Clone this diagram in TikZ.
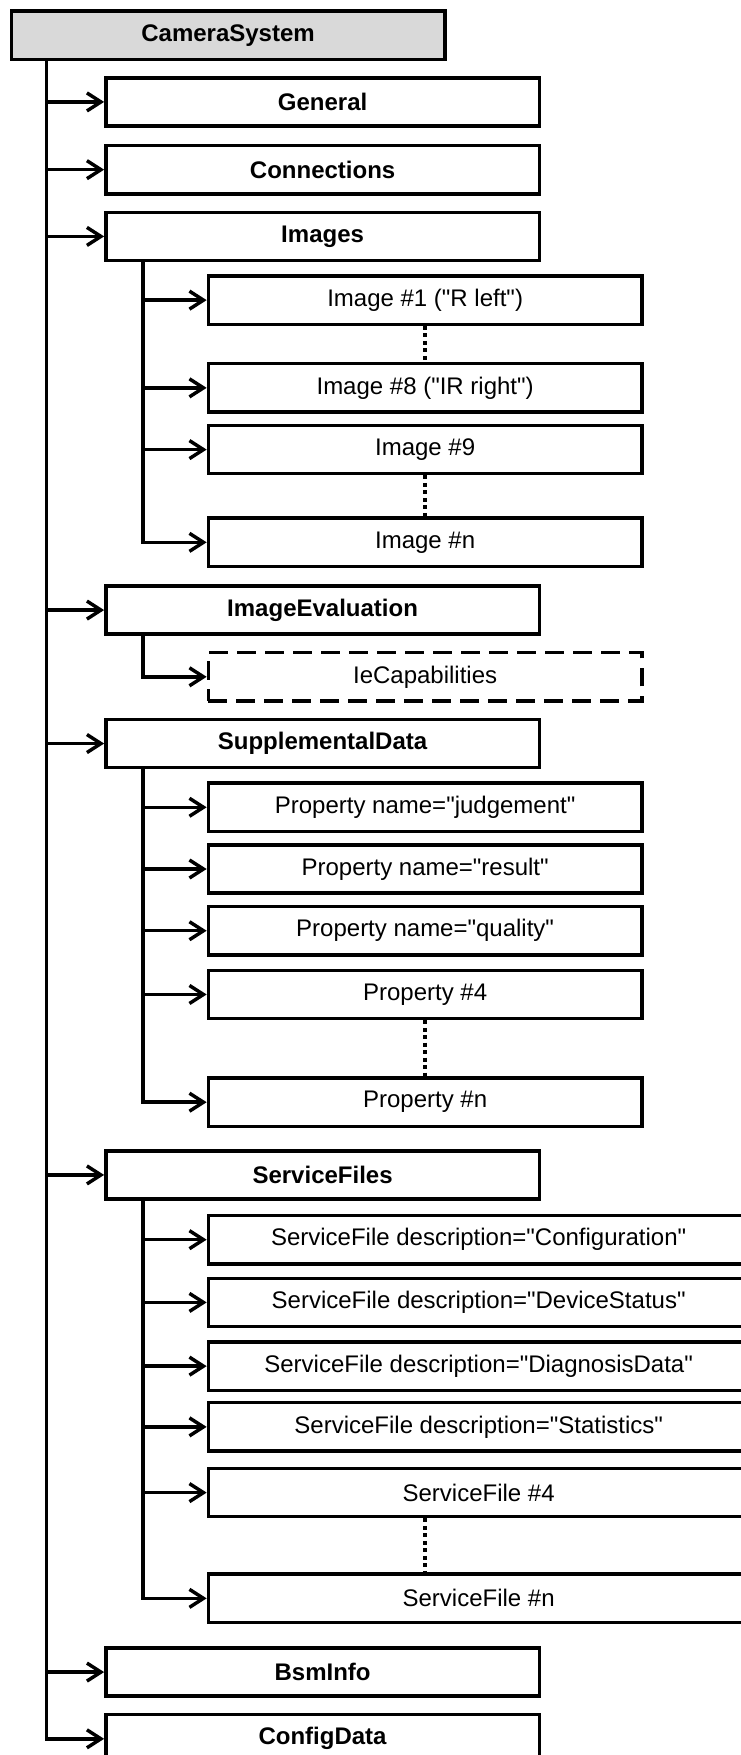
\documentclass[tikz,border=0pt]{standalone}
\usepackage{fontspec}
\setmainfont{Liberation Sans}
\usetikzlibrary{arrows.meta,positioning}
\newcommand{\qmark}{\XeTeXglyph\XeTeXcharglyph"22\relax}

\begin{document}
\begin{tikzpicture}[
  font=\fontsize{18}{21}\selectfont,
  line width=2.6pt,
  box/.style={draw, minimum width=325.1pt, minimum height=36.2pt, inner sep=0pt, align=center, fill=#1},
  box/.default=white,
  wide/.style={minimum width=405.4pt},
  link/.style={-{Straight Barb[length=10.5pt,width=13.5pt]}},
  gapline/.style={dash pattern=on 3pt off 2.6pt},
  node distance=10pt
]
\useasboundingbox (-7.2pt,7pt) rectangle (547.8pt,-1309.25pt);

\node[box=black!15, anchor=north west] (camsys) at (0,0) {\textbf{CameraSystem}};

\node[box, below=11.25pt of camsys, xshift=70.9pt] (general) {\textbf{General}};
\node[box, below=12pt of general] (connections) {\textbf{Connections}};
\node[box, below=11.25pt of connections] (images) {\textbf{Images}};

\node[box, below=9pt of images, xshift=76.9pt] (img1) {Image \#1 (\qmark R left\qmark)};
\node[box, below=27pt of img1] (img8) {Image \#8 (\qmark IR right\qmark)};
\node[box, below=7.5pt of img8] (img9) {Image \#9};
\node[box, below=30.75pt of img9] (imgn) {Image \#n};

\node[box, below=12pt of imgn, xshift=-76.9pt] (imgeval) {\textbf{ImageEvaluation}};
\node[box, dash pattern=on 14pt off 7pt, below=11.25pt of imgeval, xshift=76.9pt] (iecap) {IeCapabilities};

\node[box, below=11.25pt of iecap, xshift=-76.9pt] (suppdata) {\textbf{SupplementalData}};
\node[box, below=9pt of suppdata, xshift=76.9pt] (prop1) {Property name=\qmark judgement\qmark};
\node[box, below=7.5pt of prop1] (prop2) {Property name=\qmark result\qmark};
\node[box, below=7.5pt of prop2] (prop3) {Property name=\qmark quality\qmark};
\node[box, below=9pt of prop3] (prop4) {Property \#4};
\node[box, below=42pt of prop4] (propn) {Property \#n};

\node[box, below=15.75pt of propn, xshift=-76.9pt] (servfiles) {\textbf{ServiceFiles}};
\node[box, wide, below=9.75pt of servfiles.south west, anchor=north west, xshift=76.9pt] (sfconfig) {ServiceFile description=\qmark Configuration\qmark};
\node[box, wide, below=8.25pt of sfconfig] (sfstatus) {ServiceFile description=\qmark DeviceStatus\qmark};
\node[box, wide, below=9pt of sfstatus] (sfdiag) {ServiceFile description=\qmark DiagnosisData\qmark};
\node[box, wide, below=6.75pt of sfdiag] (sfstats) {ServiceFile description=\qmark Statistics\qmark};
\node[box, wide, below=10.5pt of sfstats] (sf4) {ServiceFile \#4};
\node[box, wide, below=40.5pt of sf4] (sfn) {ServiceFile \#n};

\node[box, below=16.5pt of sfn.south west, anchor=north west, xshift=-76.9pt] (bsminfo) {\textbf{BsmInfo}};
\node[box, below=11.25pt of bsminfo] (configdata) {\textbf{ConfigData}};

% main trunk
\coordinate (trunk) at ([xshift=27.7pt]camsys.south west);
\draw[link] (trunk) |- (general.west);
\draw[link] (trunk) |- (connections.west);
\draw[link] (trunk) |- (images.west);
\draw[link] (trunk) |- (imgeval.west);
\draw[link] (trunk) |- (suppdata.west);
\draw[link] (trunk) |- (servfiles.west);
\draw[link] (trunk) |- (bsminfo.west);
\draw[link] (trunk) |- (configdata.west);

% images
\coordinate (imgtrunk) at ([xshift=29pt]images.south west);
\draw[link] (imgtrunk) |- (img1.west);
\draw[link] (imgtrunk) |- (img8.west);
\draw[link] (imgtrunk) |- (img9.west);
\draw[link] (imgtrunk) |- (imgn.west);
\draw[gapline] (img1) -- (img8);
\draw[gapline] (img9) -- (imgn);

% image evaluation
\coordinate (evaltrunk) at ([xshift=29pt]imgeval.south west);
\draw[link] (evaltrunk) |- (iecap.west);

% supplemental data
\coordinate (supptrunk) at ([xshift=29pt]suppdata.south west);
\draw[link] (supptrunk) |- (prop1.west);
\draw[link] (supptrunk) |- (prop2.west);
\draw[link] (supptrunk) |- (prop3.west);
\draw[link] (supptrunk) |- (prop4.west);
\draw[link] (supptrunk) |- (propn.west);
\draw[gapline] (prop4) -- (propn);

% service files
\coordinate (sftrunk) at ([xshift=29pt]servfiles.south west);
\draw[link] (sftrunk) |- (sfconfig.west);
\draw[link] (sftrunk) |- (sfstatus.west);
\draw[link] (sftrunk) |- (sfdiag.west);
\draw[link] (sftrunk) |- (sfstats.west);
\draw[link] (sftrunk) |- (sf4.west);
\draw[link] (sftrunk) |- (sfn.west);
\draw[gapline] (sf4.south -| propn) -- (sfn.north -| propn);

\end{tikzpicture}
\end{document}
